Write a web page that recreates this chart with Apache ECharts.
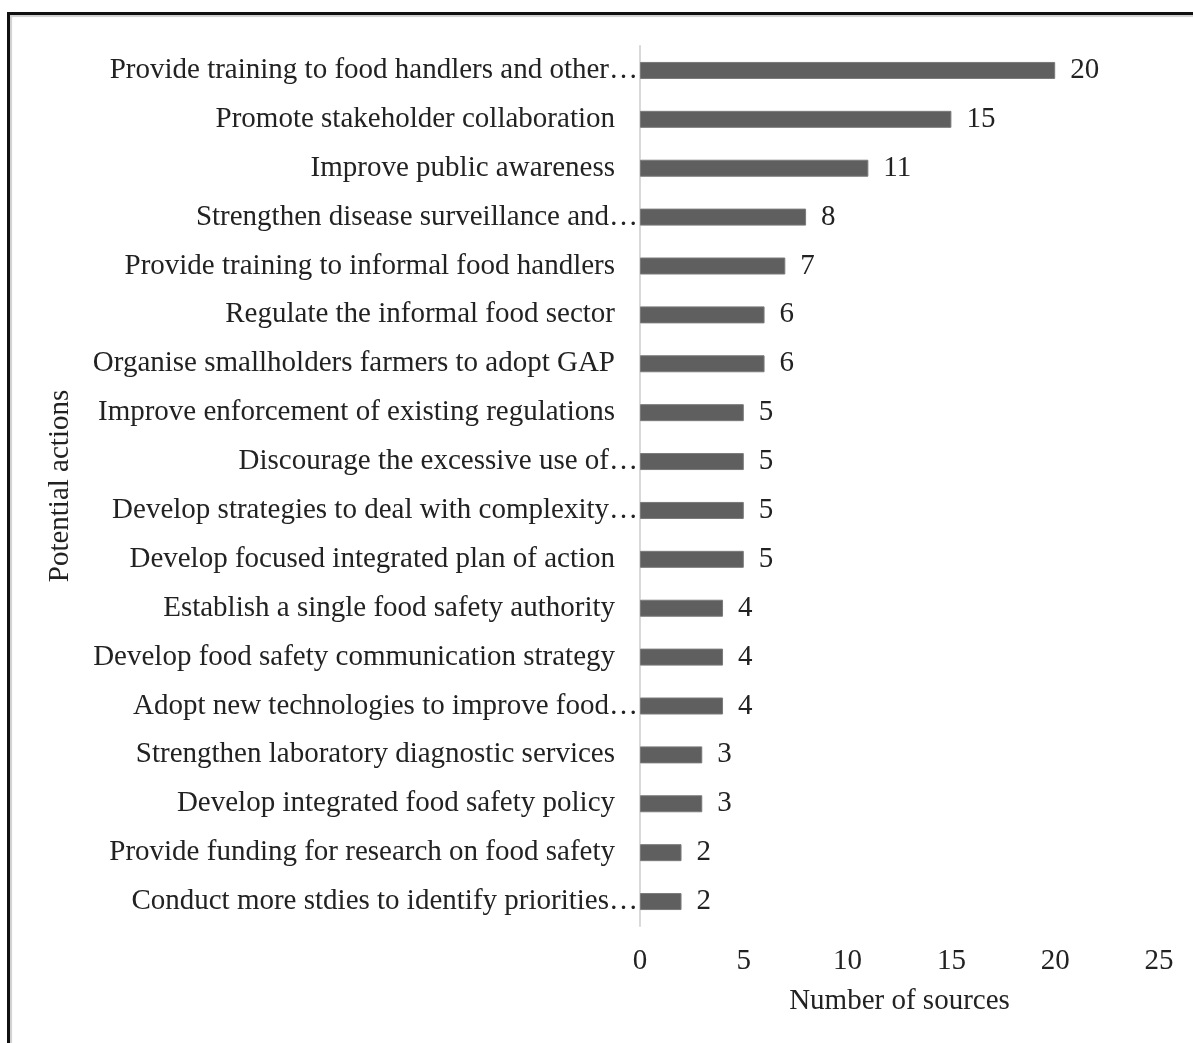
<!DOCTYPE html>
<html>
<head>
<meta charset="utf-8">
<script src="https://cdn.jsdelivr.net/npm/echarts@6/dist/echarts.min.js"></script>
<style>
  html, body { margin: 0; padding: 0; background: #fff; }
  #frame {
    position: absolute; left: 7px; top: 12px; width: 1300px; height: 1200px;
    border: 3px solid #111; box-sizing: border-box;
    box-shadow: inset 2px 2px 1px #d0d0d0;
  }
  #chart { position: absolute; left: 0; top: 0; width: 1193px; height: 1043px; }
</style>
</head>
<body>
<div id="frame"></div>
<div id="chart"></div>
<script>
// categories, top to bottom
const actions = [
  "Provide training to food handlers and other\u2026",
  "Promote stakeholder collaboration",
  "Improve public awareness",
  "Strengthen disease surveillance and\u2026",
  "Provide training to informal food handlers",
  "Regulate the informal food sector",
  "Organise smallholders farmers to adopt GAP",
  "Improve enforcement of existing regulations",
  "Discourage the excessive use of\u2026",
  "Develop strategies to deal with complexity\u2026",
  "Develop focused integrated plan of action",
  "Establish a single food safety authority",
  "Develop food safety communication strategy",
  "Adopt new technologies to improve food\u2026",
  "Strengthen laboratory diagnostic services",
  "Develop integrated food safety policy",
  "Provide funding for research on food safety",
  "Conduct more stdies to identify priorities\u2026"
];
const sources = [20, 15, 11, 8, 7, 6, 6, 5, 5, 5, 5, 4, 4, 4, 3, 3, 2, 2];
const xTicks = [0, 5, 10, 15, 20, 25];

const FONT = "'Liberation Serif', 'Times New Roman', serif";
const FS = 29;
const chart = echarts.init(document.getElementById("chart"));

const option = {
  animation: false,
  textStyle: { fontFamily: FONT },
  grid: { left: 640, right: 34, top: 46, bottom: 117, containLabel: false },
  xAxis: {
    type: "value",
    min: xTicks[0],
    max: xTicks[xTicks.length - 1],
    interval: 5,
    name: "Number of sources",
    nameLocation: "middle",
    nameGap: 61,
    nameTextStyle: { fontFamily: FONT, fontSize: FS, color: "#222" },
    axisLine: { show: false },
    axisTick: { show: false },
    splitLine: { show: false },
    axisLabel: { fontFamily: FONT, fontSize: FS, color: "#222", margin: 21 }
  },
  yAxis: {
    type: "category",
    inverse: true,
    data: actions,
    name: "Potential actions",
    nameLocation: "middle",
    nameRotate: 90,
    nameGap: 565,
    nameTextStyle: { fontFamily: FONT, fontSize: FS, color: "#222" },
    axisLine: { show: true, lineStyle: { color: "#d9d9d9", width: 2 } },
    axisTick: { show: false },
    axisLabel: {
      margin: 2,
      fontFamily: FONT,
      fontSize: FS,
      color: "#222",
      // truncated labels run up to the axis, full ones keep a gap
      formatter: (v) => v.endsWith("\u2026") ? v : v + "{g| }",
      rich: { g: { width: 23 } }
    }
  },
  series: [
    {
      type: "bar",
      data: sources,
      barWidth: 17,
      itemStyle: { color: "#5f5f5f", borderColor: "#7a7a7a", borderWidth: 1 },
      label: {
        show: true,
        position: "right",
        distance: 15,
        fontFamily: FONT,
        fontSize: FS,
        color: "#222"
      }
    }
  ]
};
chart.setOption(option);
</script>
</body>
</html>
